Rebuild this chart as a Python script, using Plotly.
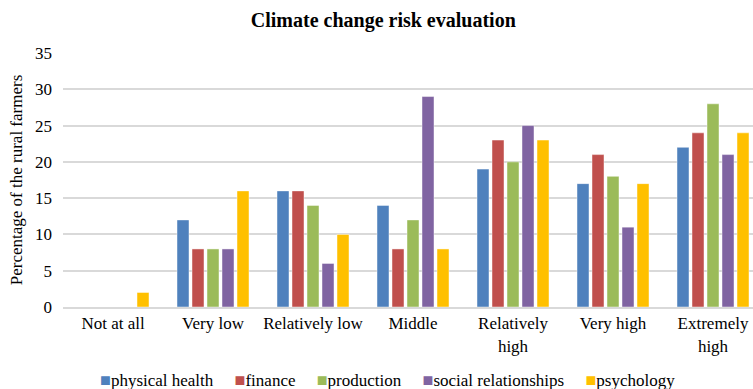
import plotly.graph_objects as go

categories = ["Not at all", "Very low", "Relatively low", "Middle",
              "Relatively<br>high", "Very high", "Extremely<br>high"]

physical_health = [0, 12, 16, 14, 19, 17, 22]
finance = [0, 8, 16, 8, 23, 21, 24]
production = [0, 8, 14, 12, 20, 18, 28]
social_relationships = [0, 8, 6, 29, 25, 11, 21]
psychology = [2, 16, 10, 8, 23, 17, 24]

series = [
    ("physical health", physical_health, "#4F81BD"),
    ("finance", finance, "#C0504D"),
    ("production", production, "#9BBB59"),
    ("social relationships", social_relationships, "#8064A2"),
    ("psychology", psychology, "#FFC000"),
]

font_family = "Liberation Serif, Times New Roman, serif"

fig = go.Figure()
for name, vals, color in series:
    fig.add_trace(go.Bar(
        x=categories, y=vals, name=name,
        marker=dict(color=color, line=dict(color="rgba(255,255,255,0.45)", width=1)),
        showlegend=False,
    ))

# compact legend row: coloured square followed by series name
legend_parts = []
for name, _, color in series:
    legend_parts.append(
        f"<span style='color:{color};font-size:18px'>■</span>{name}"
    )
legend_text = "&nbsp;&nbsp;&nbsp;&nbsp;&nbsp;".join(legend_parts)

fig.update_layout(
    width=753, height=389,
    margin=dict(l=63, r=0, t=53, b=82),
    paper_bgcolor="white", plot_bgcolor="white",
    barmode="group", bargap=0.25, bargroupgap=0.2,
    font=dict(family=font_family, size=17, color="#000000"),
    title=dict(text="<b>Climate change risk evaluation</b>",
               x=0.509, xref="container", xanchor="center",
               y=0.948, yref="container", yanchor="middle",
               font=dict(family=font_family, size=20, color="#000000")),
    annotations=[dict(
        text=legend_text, xref="paper", yref="paper",
        x=0.4696, y=-0.287, xanchor="center", yanchor="middle",
        showarrow=False, font=dict(family=font_family, size=17, color="#000000"),
    )],
)

fig.update_xaxes(range=[-0.5, 6.4], showgrid=False, showline=True,
                 linecolor="#d9d9d9", linewidth=2, ticks="",
                 tickfont=dict(family=font_family, size=17))
fig.update_yaxes(range=[0, 35], dtick=5, showgrid=True, gridcolor="#d9d9d9",
                 gridwidth=1.5, zeroline=False, ticks="", ticklabelstandoff=10,
                 title=dict(text="Percentage of the rural farmers",
                            font=dict(family=font_family, size=17), standoff=8),
                 tickfont=dict(family=font_family, size=17))

fig.write_html("out.html")
